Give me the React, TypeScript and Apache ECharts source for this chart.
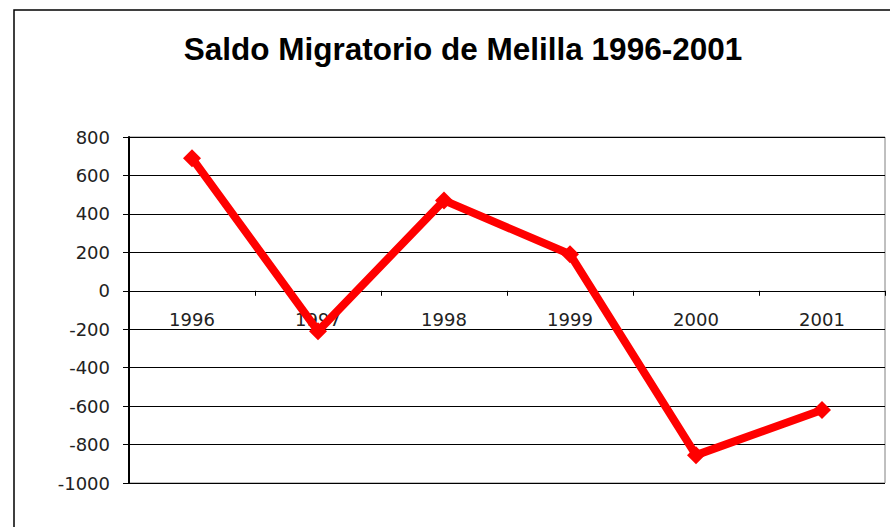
import React, { useEffect, useRef } from "react";
import * as echarts from "echarts";

const TITLE = "Saldo Migratorio de Melilla 1996-2001";
const years = ["1996", "1997", "1998", "1999", "2000", "2001"];
const saldo = [690, -210, 470, 190, -855, -620];

export default function App() {
  const ref = useRef<HTMLDivElement>(null);
  useEffect(() => {
    document.body.style.margin = "0";
    const chart = echarts.init(ref.current!, null, { renderer: "svg" });
    chart.setOption({
      animation: false,
      backgroundColor: "#ffffff",
      title: {
        text: TITLE,
        left: 458,
        textAlign: "center",
        top: 28,
        textStyle: {
          fontFamily: "Liberation Sans",
          fontWeight: "bold",
          fontSize: 31.5,
          color: "#000000",
        },
      },
      graphic: [
        {
          type: "rect",
          shape: { x: 14, y: 10, width: 1000, height: 1000 },
          style: { fill: "none", stroke: "#000000", lineWidth: 1.5 },
          silent: true,
          z: -10,
        },
      ],
      grid: {
        left: 129,
        right: 5,
        top: 137,
        bottom: 44,
        show: true,
        borderColor: "#808080",
        borderWidth: 1,
        backgroundColor: "transparent",
      },
      xAxis: {
        type: "category",
        data: years,
        boundaryGap: true,
        position: "bottom",
        offset: -192.2,
        axisLine: { onZero: false, lineStyle: { color: "#000000", width: 1.2 } },
        axisTick: { show: true, inside: false, length: 5, lineStyle: { color: "#000000" } },
        axisLabel: {
          margin: 20,
          fontFamily: "DejaVu Sans",
          fontSize: 18,
          color: "#222222",
        },
        splitLine: { show: false },
      },
      yAxis: {
        type: "value",
        min: -1000,
        max: 800,
        interval: 200,
        axisLine: { show: true, lineStyle: { color: "#000000", width: 2 } },
        axisTick: { show: true, length: 6, lineStyle: { color: "#000000" } },
        axisLabel: {
          margin: 19,
          fontFamily: "DejaVu Sans",
          fontSize: 18,
          color: "#222222",
          formatter: (v: number) => String(v),
        },
        splitLine: { show: true, lineStyle: { color: "#000000", width: 1 } },
      },
      series: [
        {
          type: "line",
          data: saldo,
          symbol: "diamond",
          symbolSize: 18,
          lineStyle: { color: "#ff0000", width: 8 },
          itemStyle: { color: "#ff0000" },
          z: 5,
        },
      ],
    });
    return () => chart.dispose();
  }, []);
  return (
    <div
      ref={ref}
      style={{ position: "absolute", left: 0, top: 0, width: 890, height: 527 }}
    />
  );
}
